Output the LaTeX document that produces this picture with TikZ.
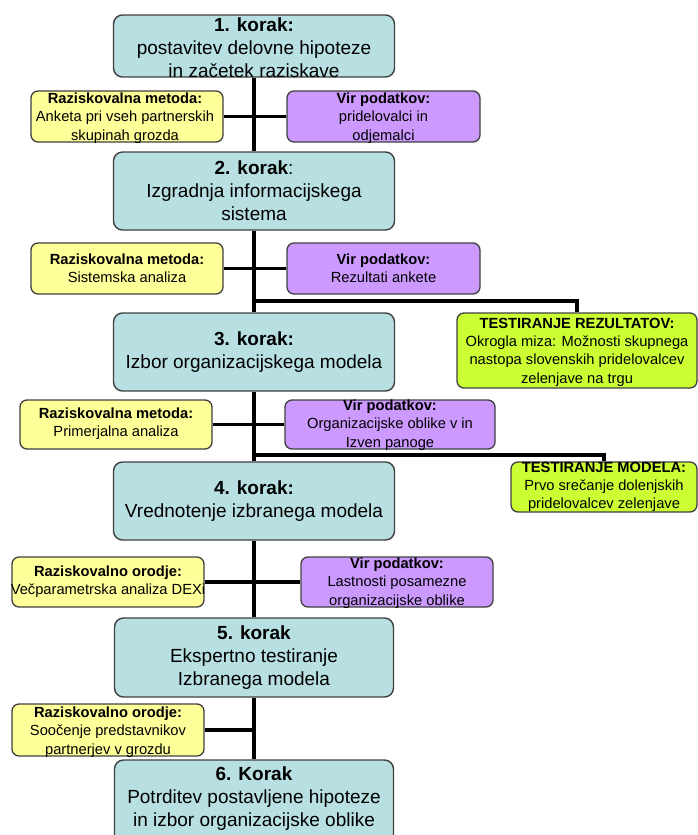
\documentclass[tikz,border=0pt]{standalone}
\usepackage{fontspec}
\setmainfont{Liberation Sans}
\definecolor{mainfill}{RGB}{184,223,226}
\definecolor{yelfill}{RGB}{255,255,153}
\definecolor{purfill}{RGB}{204,153,255}
\definecolor{grnfill}{RGB}{204,255,51}
\definecolor{edge}{RGB}{64,64,64}
\tikzset{
  mainbox/.style={draw=edge, line width=1.4pt, fill=mainfill, rounded corners=9pt, inner sep=0pt},
  sidebox/.style={draw=edge, line width=1.3pt, rounded corners=7pt, inner sep=0pt},
  yelbox/.style={sidebox, fill=yelfill},
  purbox/.style={sidebox, fill=purfill},
  grnbox/.style={sidebox, fill=grnfill},
  maintext/.style={align=center, inner sep=0pt, font=\fontsize{19}{23}\selectfont},
  sidetext/.style={align=center, inner sep=0pt, font=\fontsize{14.7}{18.3}\selectfont},
  link/.style={draw=black, line width=3.3pt}
}
\begin{document}
\begin{tikzpicture}[x=1pt,y=-1pt]
\path[use as bounding box] (0,0) rectangle (698,835);
\clip (0,0) rectangle (698,835);

% main steps
\node[mainbox, minimum width=281pt, minimum height=62pt] (s1) at (254,46) {};
\node[mainbox, minimum width=281pt, minimum height=78pt] (s2) at (254,191) {};
\node[mainbox, minimum width=281pt, minimum height=78pt] (s3) at (254,352) {};
\node[mainbox, minimum width=281pt, minimum height=78pt] (s4) at (254,501) {};
\node[mainbox, minimum width=279pt, minimum height=79pt] (s5) at (254,657.5) {};
\node[mainbox, minimum width=279pt, minimum height=85pt] (s6) at (254,802.5) {};

% side boxes
\node[yelbox, minimum width=192pt, minimum height=51pt] (y1) at (127,116.5) {};
\node[purbox, minimum width=193pt, minimum height=51pt] (p1) at (383.5,116.5) {};
\node[yelbox, minimum width=192pt, minimum height=51pt] (y2) at (127,268.5) {};
\node[purbox, minimum width=193pt, minimum height=51pt] (p2) at (383.5,268.5) {};
\node[grnbox, minimum width=240pt, minimum height=75pt] (g1) at (577,350.5) {};
\node[yelbox, minimum width=192pt, minimum height=49pt] (y3) at (116,424.5) {};
\node[purbox, minimum width=210pt, minimum height=49pt] (p3) at (390,424.5) {};
\node[grnbox, minimum width=186pt, minimum height=50pt] (g2) at (604,487) {};
\node[yelbox, minimum width=192pt, minimum height=50pt] (y4) at (108,582) {};
\node[purbox, minimum width=192pt, minimum height=50pt] (p4) at (397,582) {};
\node[yelbox, minimum width=192pt, minimum height=52pt] (y5) at (108,730) {};

% connectors
\coordinate (j1) at (254,301);
\coordinate (j2) at (254,455);
\draw[link] (s1.south) -- (s2.north);
\draw[link] (s2.south) -- (s3.north);
\draw[link] (s3.south) -- (s4.north);
\draw[link] (s4.south) -- (s5.north);
\draw[link] (s5.south) -- (s6.north);
\draw[link] (y1.east) -- (p1.west);
\draw[link] (y2.east) -- (p2.west);
\draw[link] (y3.east) -- (p3.west);
\draw[link] (y4.east) -- (p4.west);
\draw[link] (y5.east) -- (y5.east -| s5.south);
\draw[link] (j1) -| (g1.north);
\draw[link] (j2) -| (g2.north);

% texts of main steps
\node[maintext] (t1) at (254,48) {\textbf{1. korak:}\\postavitev delovne hipoteze\\in začetek raziskave};
\node[maintext] (t2) at (254,191) {\textbf{2. korak}:\\Izgradnja informacijskega\\sistema};
\node[maintext] (t3) at (254,352) {\textbf{3. korak:}\\Izbor organizacijskega modela};
\node[maintext] (t4) at (254,501) {\textbf{4. korak:}\\Vrednotenje izbranega modela};
\node[maintext] (t5) at (254,658) {\textbf{5. korak}\\Ekspertno testiranje\\Izbranega modela};
\node[maintext] (t6) at (254,799) {\textbf{6. Korak}\\Potrditev postavljene hipoteze\\in izbor organizacijske oblike};

% texts of side boxes
\node[sidetext] (ty1) at (125,118) {\textbf{Raziskovalna metoda:}\\Anketa pri vseh partnerskih\\skupinah grozda};
\node[sidetext] (tp1) at (383.5,118) {\textbf{Vir podatkov:}\\pridelovalci in\\odjemalci};
\node[sidetext] (ty2) at (127,268) {\textbf{Raziskovalna metoda:}\\Sistemska analiza};
\node[sidetext] (tp2) at (383.5,268) {\textbf{Vir podatkov:}\\Rezultati ankete};
\node[sidetext] (tg1) at (577,352) {\textbf{TESTIRANJE REZULTATOV:}\\Okrogla miza: Možnosti skupnega\\nastopa slovenskih pridelovalcev\\zelenjave na trgu};
\node[sidetext] (ty3) at (116,424) {\textbf{Raziskovalna metoda:}\\Primerjalna analiza};
\node[sidetext] (tp3) at (390,425) {\textbf{Vir podatkov:}\\Organizacijske oblike v in\\Izven panoge};
\node[sidetext] (tg2) at (604,487) {\textbf{TESTIRANJE MODELA:}\\Prvo srečanje dolenjskih\\pridelovalcev zelenjave};
\node[sidetext] (ty4) at (108,582) {\textbf{Raziskovalno orodje:}\\Večparametrska analiza DEXi};
\node[sidetext] (tp4) at (397,583) {\textbf{Vir podatkov:}\\Lastnosti posamezne\\organizacijske oblike};
\node[sidetext] (ty5) at (108,732) {\textbf{Raziskovalno orodje:}\\Soočenje predstavnikov\\partnerjev v grozdu};
\end{tikzpicture}
\end{document}
